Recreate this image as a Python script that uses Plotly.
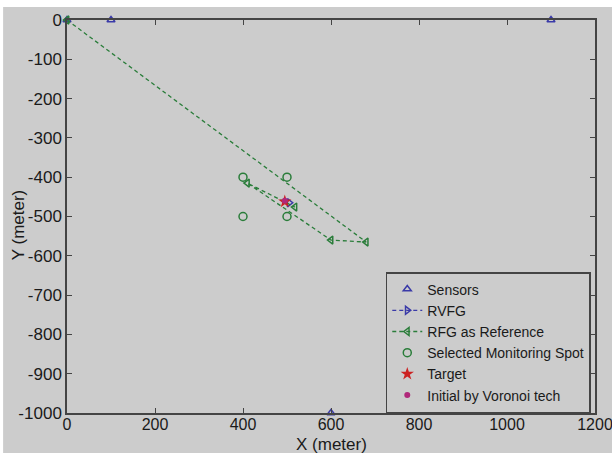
import plotly.graph_objects as go

sensor_x = [0, 100, 1100, 600]
sensor_y = [0, 0, 0, -1000]

rvfg_x = [505]
rvfg_y = [-465]

rfg_x = [0, 680, 600, 410, 518]
rfg_y = [0, -565, -560, -415, -476]

spot_x = [400, 500, 400, 500]
spot_y = [-400, -400, -500, -500]

target_x = [495]
target_y = [-462]

voronoi_x = [495]
voronoi_y = [-460]

x_ticks = [0, 200, 400, 600, 800, 1000, 1200]
y_ticks = [0, -100, -200, -300, -400, -500, -600, -700, -800, -900, -1000]

green = "#2a7d3a"
blue = "#3a3aa8"
gray = "#cccccc"
axis_col = "#444444"
font_fam = "Liberation Sans, Arial, Helvetica"

fig = go.Figure()
fig.add_trace(go.Scatter(x=sensor_x, y=sensor_y, mode="markers", name="Sensors",
                         marker=dict(symbol="triangle-up-open", size=7, color=blue, line=dict(width=1.5)),
                         cliponaxis=False))
fig.add_trace(go.Scatter(x=rvfg_x, y=rvfg_y, mode="lines+markers", name="RVFG",
                         line=dict(color=blue, dash="4px,3px", width=1.2),
                         marker=dict(symbol="triangle-right-open", size=7, color=blue, line=dict(width=1.5))))
fig.add_trace(go.Scatter(x=rfg_x, y=rfg_y, mode="lines+markers", name="RFG as Reference",
                         line=dict(color=green, dash="4px,3px", width=1.3),
                         marker=dict(symbol="triangle-left-open", size=7, color=green, line=dict(width=1.5)),
                         cliponaxis=False))
fig.add_trace(go.Scatter(x=spot_x, y=spot_y, mode="markers", name="Selected Monitoring Spot",
                         marker=dict(symbol="circle-open", size=8, color=green, line=dict(width=1.5))))
fig.add_trace(go.Scatter(x=target_x, y=target_y, mode="markers", name="Target",
                         marker=dict(symbol="star", size=10, color="#cc2222")))
fig.add_trace(go.Scatter(x=voronoi_x, y=voronoi_y, mode="markers", name="Initial by Voronoi tech",
                         marker=dict(symbol="circle", size=6, color="#b0287a")))

axis_common = dict(showgrid=False, zeroline=False, showline=True, linecolor=axis_col, linewidth=1.5,
                   mirror="ticks", ticks="inside", ticklen=5, tickcolor=axis_col, automargin=False,
                   ticklabeloverflow="allow")

fig.update_layout(
    width=612, height=453,
    margin=dict(l=67, r=17, t=20, b=40),
    paper_bgcolor=gray, plot_bgcolor=gray,
    font=dict(family=font_fam, color="#1a1a1a"),
    xaxis=dict(range=[0, 1200], tickvals=x_ticks, ticktext=[str(v) for v in x_ticks],
               ticklabelstandoff=-4,
               tickfont=dict(size=16, color="#1a1a1a", family=font_fam), **axis_common),
    yaxis=dict(range=[-1000, 0], tickvals=y_ticks, ticktext=[str(v) for v in y_ticks],
               tickfont=dict(size=17, color="#1a1a1a", family=font_fam), **axis_common),
    legend=dict(x=0.992, y=0.0, xanchor="right", yanchor="bottom",
                bgcolor=gray, bordercolor=axis_col, borderwidth=1.5,
                font=dict(size=14, color="#1a1a1a"), tracegroupgap=0),
    annotations=[
        dict(text="X (meter)", xref="paper", yref="paper", x=0.5, y=-0.08,
             xanchor="center", yanchor="middle", showarrow=False, font=dict(size=17)),
        dict(text="Y (meter)", xref="paper", yref="paper", x=-0.093, y=0.48, textangle=-90,
             xanchor="center", yanchor="middle", showarrow=False, font=dict(size=17)),
    ],
    shapes=[
        dict(type="rect", xref="paper", yref="paper", x0=-0.2, x1=1.1, y0=1.033, y1=1.1,
             fillcolor="white", line=dict(width=0), layer="below"),
        dict(type="rect", xref="paper", yref="paper", x0=-0.2, x1=-0.121, y0=-0.2, y1=1.1,
             fillcolor="white", line=dict(width=0), layer="below"),
    ],
)

fig.write_html("out.html")
